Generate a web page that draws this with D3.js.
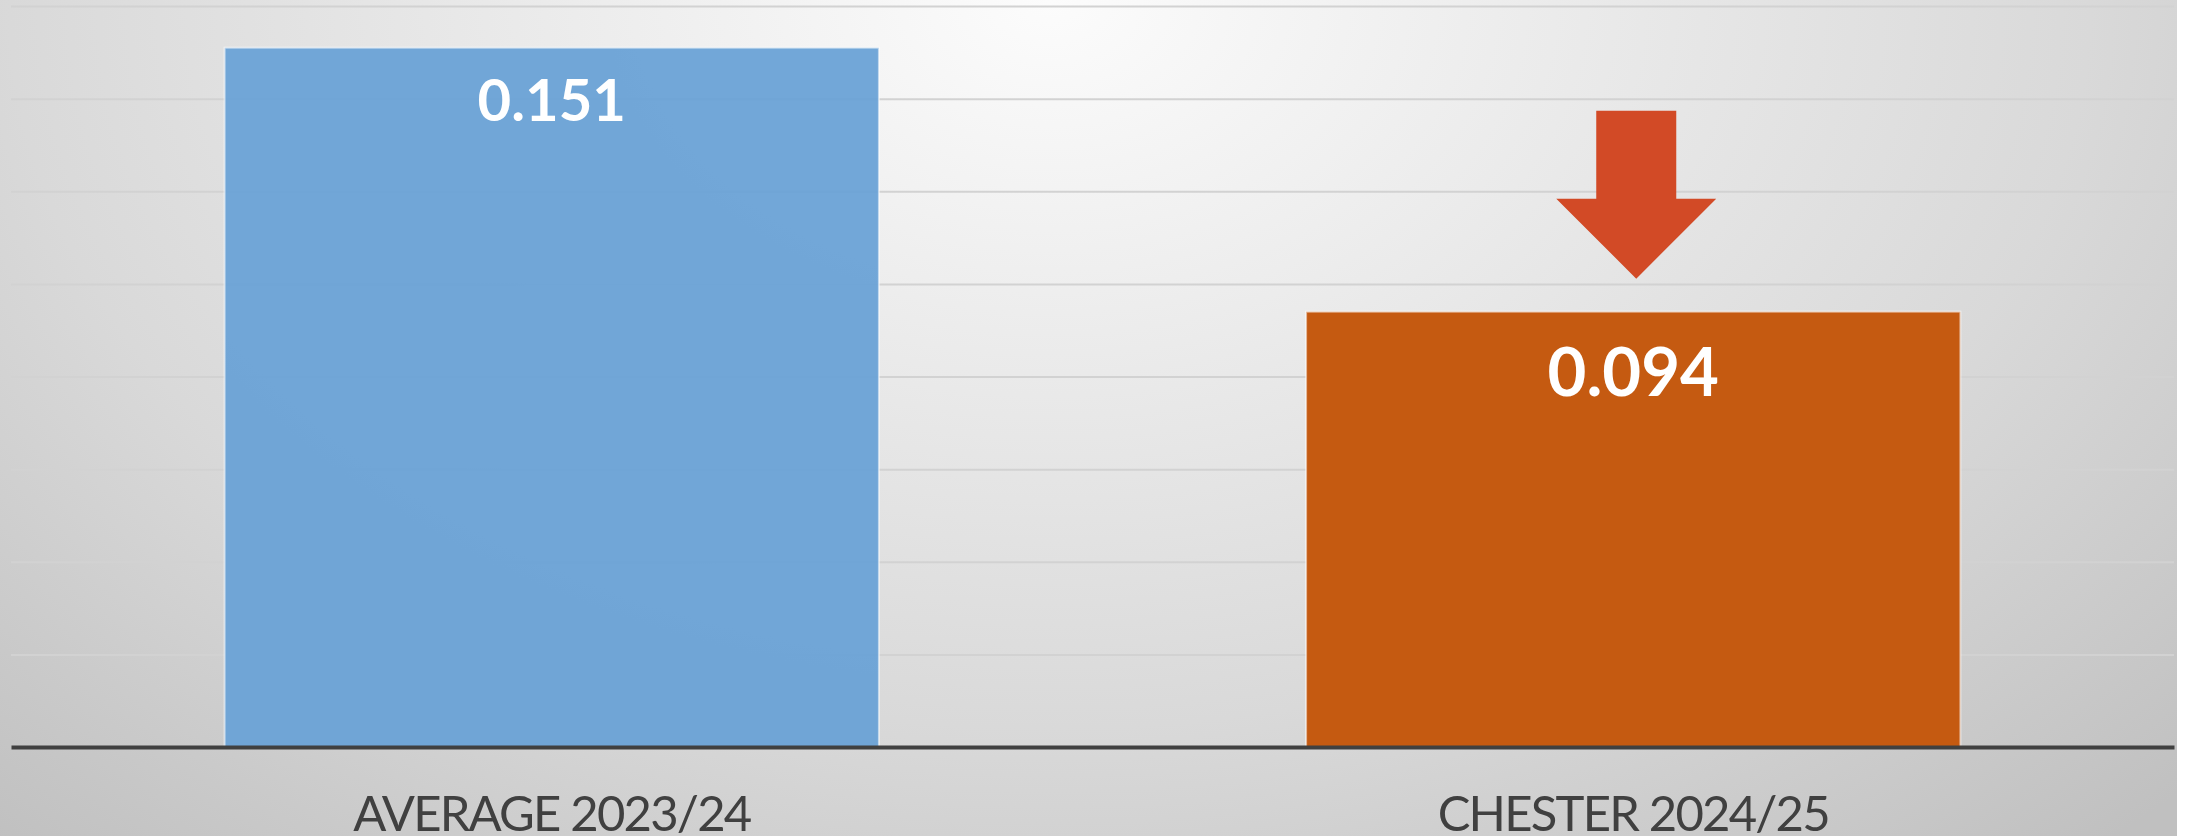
<!DOCTYPE html>
<html>
<head>
<meta charset="utf-8">
<script src="https://cdn.jsdelivr.net/npm/d3@7"></script>
<style>
  html, body { margin: 0; padding: 0; background: #ffffff; overflow: hidden; }
  #chart { width: 2189px; height: 836px; }
</style>
</head>
<body>
<div id="chart"></div>
<script>
// Chart data
const categories = ["AVERAGE 2023/24", "CHESTER 2024/25"];
const values = [0.151, 0.094];
const barColors = ["#6aa2d6", "#c55a11"];
const labelSizes = [58, 67];
const yTicks = [0, 0.02, 0.04, 0.06, 0.08, 0.1, 0.12, 0.14, 0.16];

const W = 2189, H = 836;
const margin = { top: 6, right: 15, bottom: 89, left: 11 };
const width = W - margin.left - margin.right,
      height = H - margin.top - margin.bottom;

const svg = d3.select("#chart")
    .append("svg")
    .attr("width", W)
    .attr("height", H);

const defs = svg.append("defs");

// soft radial background
const bg = defs.append("radialGradient")
    .attr("id", "bg")
    .attr("gradientUnits", "userSpaceOnUse")
    .attr("cx", 1050).attr("cy", 0).attr("r", 1600)
    .attr("gradientTransform", "translate(1050,0) scale(1,0.7) translate(-1050,0)");
bg.append("stop").attr("offset", 0).attr("stop-color", "#fcfcfc");
bg.append("stop").attr("offset", 0.65).attr("stop-color", "#d9d9d9");
bg.append("stop").attr("offset", 1).attr("stop-color", "#c0c0c0");

// gridlines get darker towards the bottom
const gg = defs.append("linearGradient")
    .attr("id", "gridGrad")
    .attr("gradientUnits", "userSpaceOnUse")
    .attr("x1", 0).attr("y1", 0).attr("x2", 0).attr("y2", height);
gg.append("stop").attr("offset", 0).attr("stop-color", "#d2d2d2");
gg.append("stop").attr("offset", 1).attr("stop-color", "#7c7c7c");

svg.append("rect")
    .attr("width", 2177)
    .attr("height", H)
    .attr("fill", "url(#bg)");

const g = svg.append("g")
    .attr("transform", `translate(${margin.left},${margin.top})`);

// Scales
const x = d3.scaleBand()
    .domain(categories)
    .range([0, width])
    .paddingInner(0.395)
    .paddingOuter(0.1975);

const y = d3.scaleLinear()
    .domain([0, 0.16])
    .range([height, 0]);

// Horizontal gridlines
g.append("g")
    .attr("class", "grid")
    .call(d3.axisLeft(y).tickValues(yTicks.slice(1)).tickSize(-width).tickFormat(""))
    .call(s => s.select(".domain").remove())
    .call(s => s.selectAll(".tick line")
        .attr("stroke", "url(#gridGrad)")
        .attr("stroke-width", 2));

// Bars
g.selectAll(".bar")
    .data(values)
    .enter()
    .append("rect")
    .attr("class", "bar")
    .attr("x", (d, i) => x(categories[i]))
    .attr("y", d => y(d))
    .attr("width", x.bandwidth())
    .attr("height", d => height - y(d))
    .attr("fill", (d, i) => barColors[i])
    .attr("fill-opacity", (d, i) => i === 0 ? 0.95 : 1)
    .attr("stroke", "#ffffff")
    .attr("stroke-opacity", 0.55)
    .attr("stroke-width", 2);

// Value labels
g.selectAll(".val")
    .data(values)
    .enter()
    .append("text")
    .attr("class", "val")
    .attr("x", (d, i) => x(categories[i]) + x.bandwidth() / 2)
    .attr("y", (d, i) => y(d) + (i === 0 ? 73 : 84))
    .attr("text-anchor", "middle")
    .attr("font-family", "Lato, 'Open Sans', sans-serif")
    .attr("font-weight", "bold")
    .attr("font-size", (d, i) => labelSizes[i] + "px")
    .attr("fill", "#ffffff")
    .text(d => d.toFixed(3));

// Baseline + category labels
g.append("g")
    .attr("transform", `translate(0,${height})`)
    .call(d3.axisBottom(x).tickSize(0).tickPadding(49))
    .call(s => s.select(".domain")
        .attr("stroke", "#404040")
        .attr("stroke-width", 4))
    .call(s => s.selectAll(".tick text")
        .attr("fill", "#404040")
        .attr("font-family", "Lato, 'Open Sans', sans-serif")
        .attr("font-size", "49px")
        .attr("letter-spacing", "-1.8px")
        .attr("dy", "0.71em"));

// Down arrow above the second bar
const ax = x(categories[1]) + x.bandwidth() / 2 + 3;
const tipY = y(values[1]) - 33;
const arrow = d3.path();
arrow.moveTo(ax - 40, tipY - 168);
arrow.lineTo(ax + 40, tipY - 168);
arrow.lineTo(ax + 40, tipY - 80);
arrow.lineTo(ax + 80, tipY - 80);
arrow.lineTo(ax, tipY);
arrow.lineTo(ax - 80, tipY - 80);
arrow.lineTo(ax - 40, tipY - 80);
arrow.closePath();
g.append("path")
    .attr("d", arrow.toString())
    .attr("fill", "#d24a26");
</script>
</body>
</html>
